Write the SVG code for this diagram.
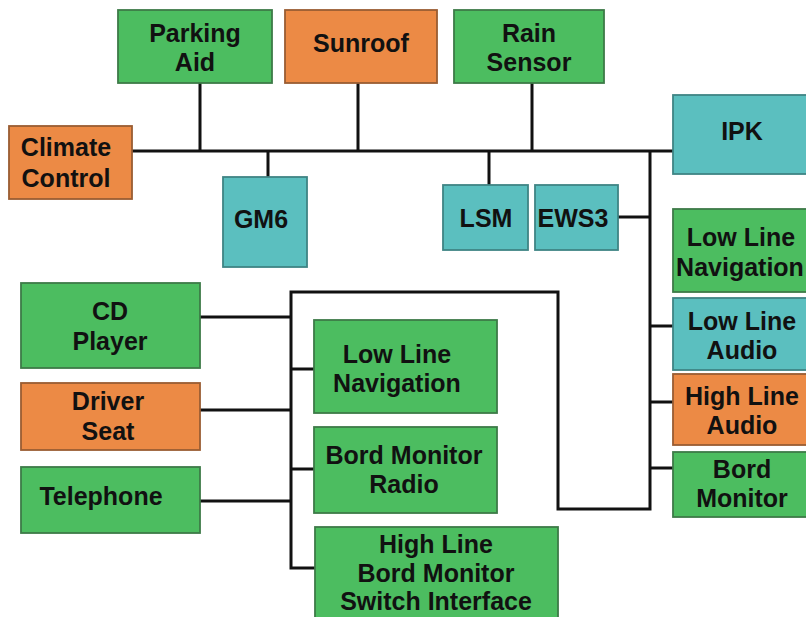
<svg xmlns="http://www.w3.org/2000/svg" width="806" height="617" viewBox="0 0 806 617">
<style>
rect{stroke-width:1.8}
.g{fill:#4cbd60;stroke:#3d7a48}
.o{fill:#ec8a45;stroke:#9a5c32}
.t{fill:#5bbfbf;stroke:#3f8484}
text{font-family:"Liberation Sans",Arial,sans-serif;font-weight:bold;font-size:25px;fill:#111;text-anchor:middle}
.c{fill:none;stroke:#111;stroke-width:3}
</style>
<rect width="806" height="617" fill="#fff"/>
<g id="connectors" class="c">
<path d="M132,151H673"/>
<path d="M200,83V151M358,83V151M532,83V151"/>
<path d="M268,151V177M489,151V185"/>
<path d="M618,217H650"/>
<path d="M650,326H673M650,402H673M650,468H673"/>
<path d="M650,151V509H558V292H291V568H315"/>
<path d="M200,317H291M200,410H291M200,501H291"/>
<path d="M291,369H314M291,469H314"/>
</g>
<g id="parking-aid"><rect class="g" x="118" y="10" width="154" height="73"/><text x="195" y="42">Parking</text><text x="195" y="71">Aid</text></g>
<g id="sunroof"><rect class="o" x="285" y="10" width="152" height="73"/><text x="361" y="52">Sunroof</text></g>
<g id="rain-sensor"><rect class="g" x="454" y="10" width="150" height="73"/><text x="529" y="42">Rain</text><text x="529" y="71">Sensor</text></g>
<g id="climate-control"><rect class="o" x="9" y="126" width="123" height="73"/><text x="66" y="156">Climate</text><text x="66" y="187">Control</text></g>
<g id="gm6"><rect class="t" x="223" y="177" width="84" height="90"/><text x="261" y="228">GM6</text></g>
<g id="ipk"><rect class="t" x="673" y="95" width="140" height="79"/><text x="742" y="140">IPK</text></g>
<g id="lsm"><rect class="t" x="443" y="185" width="85" height="65"/><text x="486" y="227">LSM</text></g>
<g id="ews3"><rect class="t" x="535" y="185" width="83" height="65"/><text x="573" y="227">EWS3</text></g>
<g id="low-line-navigation-right"><rect class="g" x="673" y="209" width="140" height="83"/><text x="741" y="246">Low Line</text><text x="740" y="276">Navigation</text></g>
<g id="low-line-audio"><rect class="t" x="673" y="298" width="140" height="72"/><text x="742" y="330">Low Line</text><text x="742" y="359">Audio</text></g>
<g id="high-line-audio"><rect class="o" x="673" y="374" width="140" height="71"/><text x="742" y="405">High Line</text><text x="742" y="434">Audio</text></g>
<g id="bord-monitor-right"><rect class="g" x="673" y="452" width="140" height="65"/><text x="742" y="478">Bord</text><text x="742" y="507">Monitor</text></g>
<g id="cd-player"><rect class="g" x="21" y="283" width="179" height="85"/><text x="110" y="320">CD</text><text x="110" y="350">Player</text></g>
<g id="driver-seat"><rect class="o" x="21" y="383" width="179" height="67"/><text x="108" y="410">Driver</text><text x="108" y="440">Seat</text></g>
<g id="telephone"><rect class="g" x="21" y="467" width="179" height="66"/><text x="101" y="505">Telephone</text></g>
<g id="low-line-navigation-mid"><rect class="g" x="314" y="320" width="183" height="93"/><text x="397" y="363">Low Line</text><text x="397" y="392">Navigation</text></g>
<g id="bord-monitor-radio"><rect class="g" x="314" y="427" width="183" height="86"/><text x="404" y="464">Bord Monitor</text><text x="404" y="493">Radio</text></g>
<g id="high-line-bmsi"><rect class="g" x="315" y="527" width="243" height="100"/><text x="436" y="553">High Line</text><text x="436" y="582">Bord Monitor</text><text x="436" y="610">Switch Interface</text></g>
</svg>
